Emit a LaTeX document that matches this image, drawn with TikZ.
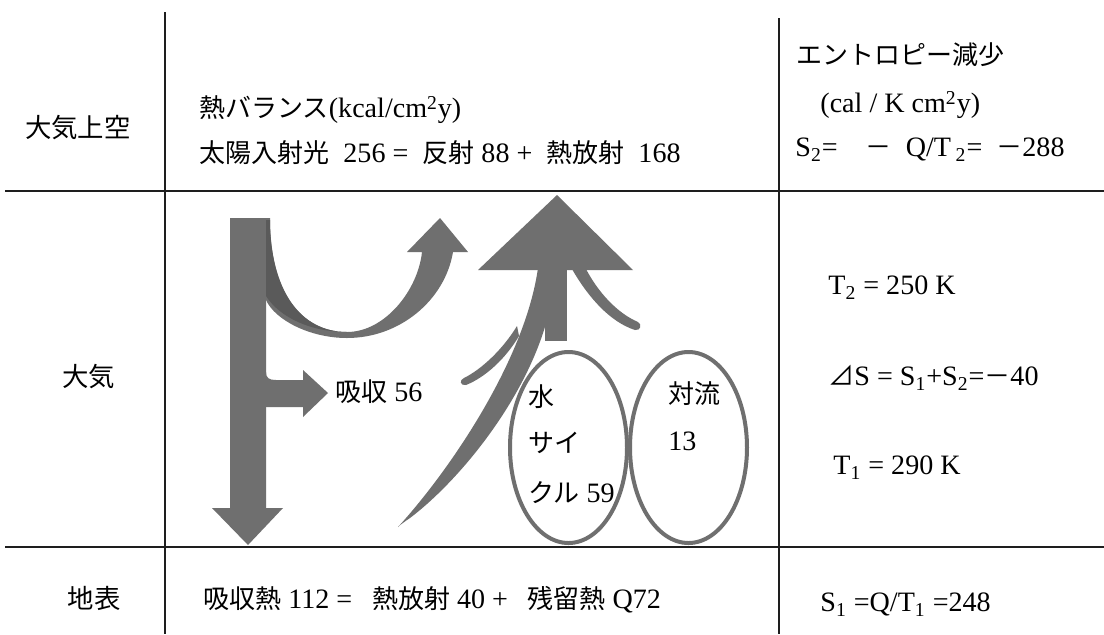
\documentclass[tikz,border=0pt]{standalone}
\usepackage{fontspec}
\setmainfont{Liberation Serif}[Scale=1.08]
\newfontfamily\jpfont{Noto Sans CJK JP}
\newcommand\jp[1]{{\jpfont #1}}
\definecolor{flow}{HTML}{6F6F6F}
\definecolor{flowdark}{HTML}{5A5A5A}
\definecolor{rulecol}{HTML}{1E1E1E}

\begin{document}
\begin{tikzpicture}[x=0.5pt,y=-0.5pt,
  txt/.style={anchor=west,inner sep=0pt,font=\fontsize{13}{15}\selectfont},
  rowlabel/.style={inner sep=0pt,font=\fontsize{13.2}{15}\selectfont},
  gridline/.style={draw=rulecol,line width=1pt},
  loopline/.style={draw=flow,line width=2pt}]
\useasboundingbox (0,0) rectangle (1104,634);
\fill[white] (0,0) rectangle (1104,634);

% table rules
\draw[gridline] (165,12) -- (165,634);
\draw[gridline] (779,18) -- (779,634);
\draw[gridline] (5,191) -- (1104,191);
\draw[gridline] (5,547) -- (1104,547);

% row labels
\node[rowlabel] (upper) at (78,128) {\jp{大気上空}};
\node[rowlabel] (atmos) at (89,377) {\jp{大気}};
\node[rowlabel] (ground) at (94,598) {\jp{地表}};

% heat balance, top row
\node[txt] (balance) at (199,110) {\jp{熱バランス}(kcal/cm\textsuperscript{2}y)};
\node[txt] (solar) at (199,153) {\jp{太陽入射光}\enspace 256 =\enspace\jp{反射} 88 +\enspace\jp{熱放射}\enspace 168};

% entropy column
\node[txt] (entropy) at (796,55) {\jp{エントロピー減少}};
\node[txt] (unit) at (820,105) {(cal / K cm\textsuperscript{2}y)};
\node[txt] (s2) at (795,150) {S\textsubscript{2}=\quad\jp{－}\enspace Q/T\,\textsubscript{2}=\enspace\jp{－}288};
\node[txt] (t2) at (828,288) {T\textsubscript{2} = 250 K};
\node[txt] (ds) at (828,378) {\jp{⊿}S = S\textsubscript{1}+S\textsubscript{2}=\jp{－}40};
\node[txt] (t1) at (833,468) {T\textsubscript{1} = 290 K};
\node[txt] (s1) at (820,605) {S\textsubscript{1} =Q/T\textsubscript{1} =248};

% ground balance
\node[txt] (groundbal) at (203,600) {\jp{吸収熱} 112 =\hspace{0.7em}\jp{熱放射} 40 +\hspace{0.7em}\jp{残留熱} Q72};

% incoming sunlight, going down to the ground
\fill[flow] (230,218) -- (266,218) -- (266,508) -- (283,508) -- (248,545) -- (212,508) -- (230,508) -- cycle;
% reflected part, bending back up
\fill[flow] (266,218) -- (270,218) .. controls (270,290) and (300,332) .. (347,332)
  .. controls (385,332) and (418,290) .. (422,252) -- (407,252) -- (440,218) -- (468,252) -- (453,252)
  .. controls (445,300) and (400,338) .. (347,338) .. controls (310,338) and (275,320) .. (266,300) -- cycle;
\fill[flowdark] (266,220) -- (270,220) .. controls (270,290) and (300,332) .. (347,332)
  .. controls (312,332) and (280,318) .. (266,296) -- cycle;
% absorbed part
\fill[flow] (262,372) -- (266,372) .. controls (266,378) and (269,380) .. (276,380) -- (303,380) -- (303,370)
  -- (328,393) -- (303,417) -- (303,407) -- (262,407) -- cycle;
\node[txt] (absorb) at (335,392) {\jp{吸収} 56};

% outgoing heat radiation
\fill[flow] (478,270) -- (557,195) -- (633,270) -- cycle;
\fill[flow] (545,268) rectangle (567,341);
\fill[flow] (398,527) .. controls (450,470) and (525,360) .. (538,268) -- (547,268) -- (547,320)
  .. controls (525,400) and (460,480) .. (410,518) .. controls (404,522) and (400,525) .. cycle;
\fill[flow] (466,385) .. controls (486,377) and (506,358) .. (519,336) -- (517,326)
  .. controls (503,349) and (482,369) .. (464,378) .. controls (459,380) and (460,386) .. cycle;
\fill[flow] (572,269) .. controls (588,297) and (610,322) .. (635,330)
  .. controls (641,331) and (642,324) .. (638,322) .. controls (617,313) and (598,292) .. (586,269) -- cycle;

% water cycle and convection
\draw[loopline] (568.5,447.5) ellipse [x radius=58.5, y radius=95.5];
\draw[loopline] (688.5,447.5) ellipse [x radius=58.5, y radius=95.5];
\node[txt] (w1) at (528,397) {\jp{水}};
\node[txt] (w2) at (528,443) {\jp{サイ}};
\node[txt] (w3) at (528,493) {\jp{クル} 59};
\node[txt] (c1) at (668,394) {\jp{対流}};
\node[txt] (c2) at (668,441) {13};
\end{tikzpicture}
\end{document}
